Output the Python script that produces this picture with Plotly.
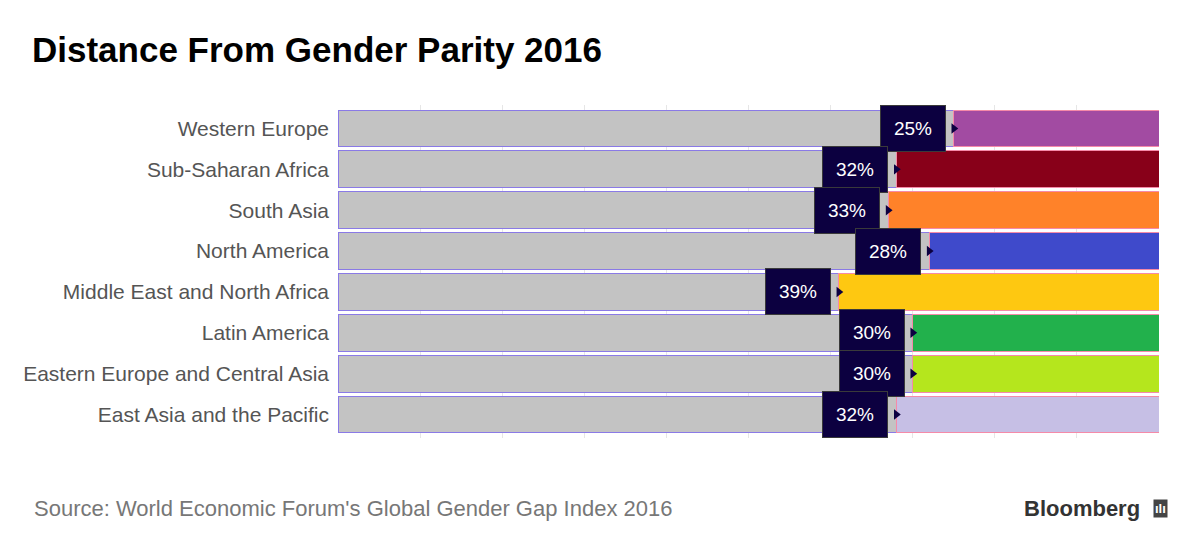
import plotly.graph_objects as go

regions = ["Western Europe", "Sub-Saharan Africa", "South Asia", "North America",
           "Middle East and North Africa", "Latin America",
           "Eastern Europe and Central Asia", "East Asia and the Pacific"]
gap = [25, 32, 33, 28, 39, 30, 30, 32]
colors = ["#a24ba2", "#880019", "#ff8229", "#3f4acb", "#fec811", "#22b14c", "#b5e61d", "#c6bfe5"]
achieved = [100 - g for g in gap]
labels = [f"{g}%" for g in gap]

fig = go.Figure()
fig.add_trace(go.Bar(y=regions, x=achieved, orientation="h", marker_color="#c3c3c3",
                     marker_line_color="#8a7ae6", marker_line_width=1, width=0.9, hoverinfo="skip"))
fig.add_trace(go.Bar(y=regions, x=gap, orientation="h", marker_color=colors,
                     marker_line_color="#f58aa8", marker_line_width=1, width=0.9, hoverinfo="skip"))
fig.add_trace(go.Scatter(y=regions, x=achieved, mode="markers",
                         marker=dict(symbol="triangle-right", size=9, color="#0c0040"),
                         hoverinfo="skip"))
for r, a, l in zip(regions, achieved, labels):
    fig.add_annotation(x=a, y=r, text=l, showarrow=False, xanchor="right", xshift=-8,
                       font=dict(family="Liberation Sans, Arial", size=19, color="white"),
                       bgcolor="#0c0040", bordercolor="#3a3a3a", borderwidth=1, borderpad=12,
                       width=40)

fig.update_layout(
    width=1200, height=553, barmode="stack", showlegend=False,
    plot_bgcolor="white", paper_bgcolor="white",
    margin=dict(l=330, r=49, t=97, b=123),
    title=dict(text="<b>Distance From Gender Parity 2016</b>", x=0.02, xanchor="left",
               y=0.924, yanchor="middle",
               font=dict(family="Liberation Sans, Arial", size=35, color="black")),
    xaxis=dict(range=[0, 100], dtick=10, showticklabels=False, showgrid=True,
               gridcolor="#e6e6e6", zeroline=False, ticks=""),
    yaxis=dict(autorange="reversed", tickfont=dict(family="Liberation Sans, Arial", size=21, color="#555"),
               ticks="", ticklabelstandoff=8, showgrid=False),
    font=dict(family="Liberation Sans, Arial"),
)
fig.add_annotation(xref="paper", yref="paper", x=-0.3727, y=-0.213, xanchor="left", yanchor="middle",
                   text="Source: World Economic Forum's Global Gender Gap Index 2016", showarrow=False,
                   font=dict(size=22, color="#777"))
fig.add_annotation(xref="paper", yref="paper", x=0.979, y=-0.213, xanchor="right", yanchor="middle",
                   text="<b>Bloomberg</b>", showarrow=False, font=dict(size=22, color="#333"))
fig.add_annotation(xref="paper", yref="paper", x=1.011, y=-0.213, xanchor="right", yanchor="middle",
                   text="<b>ılı</b>", showarrow=False, bgcolor="#444", font=dict(size=13, color="white"))
fig.write_html("out.html")
